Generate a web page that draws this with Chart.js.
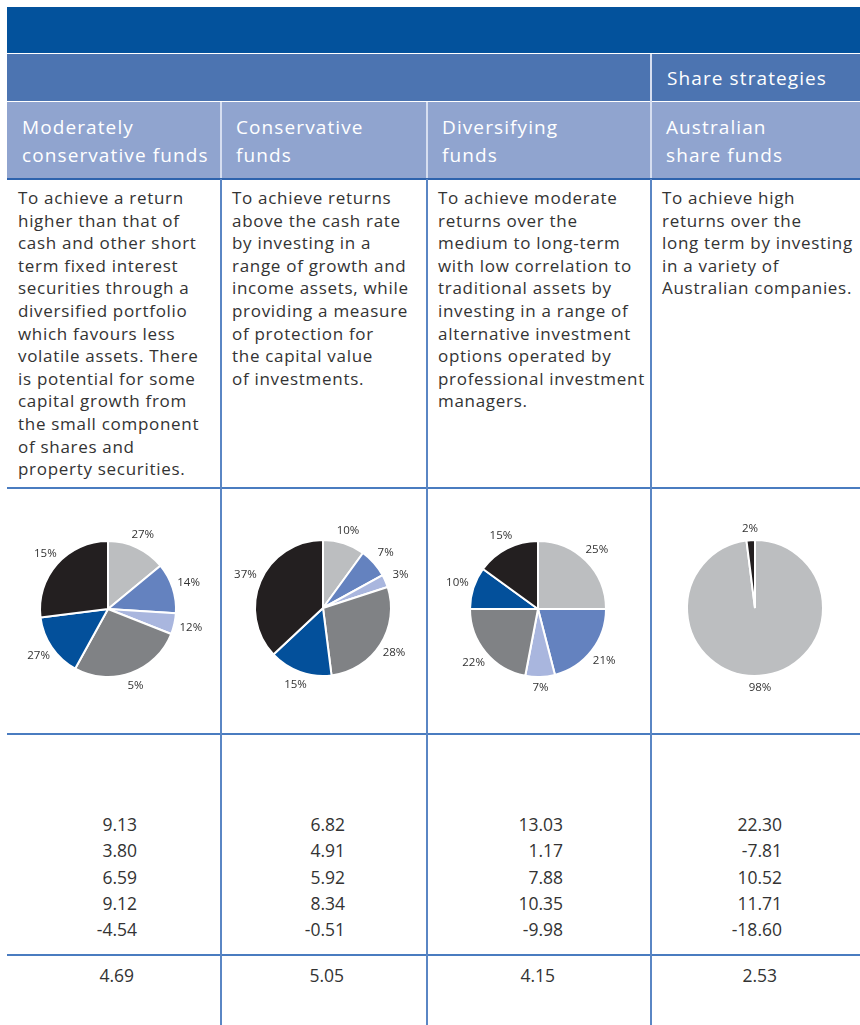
<!DOCTYPE html>
<html>
<head>
<meta charset="utf-8">
<script src="https://cdn.jsdelivr.net/npm/chart.js@4/dist/chart.umd.min.js"></script>
<style>
  html, body { margin:0; padding:0; background:#fff; }
  #page { position:relative; width:860px; height:1025px; overflow:hidden; font-family:"Open Sans", sans-serif; color:#333; }
  .band { position:absolute; }
  .hline { position:absolute; height:2px; background:#4a7cc0; }
  .vline { position:absolute; width:2px; background:#5a86c4; }
  .head { position:absolute; color:#fff; font-size:19px; line-height:28px; letter-spacing:1.1px; white-space:nowrap; }
  .desc { position:absolute; font-size:17px; line-height:22.6px; letter-spacing:0.7px; color:#333; white-space:nowrap; }
  .nums { position:absolute; font-size:17.5px; line-height:26.3px; text-align:right; color:#333; }
  .pie { position:absolute; }
</style>
</head>
<body>
<div id="page"></div>
<script>
// ========== Data ==========
const fundNames = ['Moderately<br>conservative funds', 'Conservative<br>funds', 'Diversifying<br>funds', 'Australian<br>share funds'];
const groupLabel = 'Share strategies';
const objectiveLines = [
  ['To achieve a return','higher than that of','cash and other short','term fixed interest','securities through a','diversified portfolio','which favours less','volatile assets. There','is potential for some','capital growth from','the small component','of shares and','property securities.'],
  ['To achieve returns','above the cash rate','by investing in a','range of growth and','income assets, while','providing a measure','of protection for','the capital value','of investments.'],
  ['To achieve moderate','returns over the','medium to long-term','with low correlation to','traditional assets by','investing in a range of','alternative investment','options operated by','professional investment','managers.'],
  ['To achieve high','returns over the','long term by investing','in a variety of','Australian companies.']
];

// asset allocation slices, clockwise from 12 o'clock
const sliceColors = ['#bcbec0', '#6482bf', '#a9b6de', '#808285', '#03509b', '#231f20'];
const modConsAlloc = [14, 12, 5, 27, 15, 27];
const modConsLabels = ['27%', '14%', '12%', '5%', '27%', '15%'];
const consAlloc = [10, 7, 3, 28, 15, 37];
const consLabels = ['10%', '7%', '3%', '28%', '15%', '37%'];
const divAlloc = [25, 21, 7, 22, 10, 15];
const divLabels = ['25%', '21%', '7%', '22%', '10%', '15%'];
const ausShareAlloc = [98, 2];
const ausShareLabels = ['98%', '2%'];
const ausShareColors = ['#bcbec0', '#231f20'];

// yearly returns and average
const modConsReturns = ['9.13', '3.80', '6.59', '9.12', '-4.54'];
const consReturns = ['6.82', '4.91', '5.92', '8.34', '-0.51'];
const divReturns = ['13.03', '1.17', '7.88', '10.35', '-9.98'];
const ausShareReturns = ['22.30', '-7.81', '10.52', '11.71', '-18.60'];
const averageReturns = ['4.69', '5.05', '4.15', '2.53'];

// ========== Layout ==========
const colX = [7, 221, 427, 651, 860];
const page = document.getElementById('page');

function add(cls, style, html) {
  const d = document.createElement('div');
  d.className = cls;
  Object.assign(d.style, style);
  if (html) d.innerHTML = html;
  page.appendChild(d);
  return d;
}

// header bands
add('band', { left:'7px', top:'7px', width:'853px', height:'46px', background:'#03529c' });
add('band', { left:'7px', top:'54px', width:'853px', height:'47px', background:'#4c74b1' });
add('band', { left:'7px', top:'102px', width:'853px', height:'76px', background:'#90a4cf' });
add('band', { left:'650px', top:'54px', width:'2px', height:'124px', background:'#d6def0' });
[220, 426].forEach(x => add('band', { left:x+'px', top:'102px', width:'2px', height:'76px', background:'#d6def0' }));
add('head', { left:'667px', top:'64px' }, groupLabel);
fundNames.forEach((n, i) => add('head', { left:(colX[i] + 15) + 'px', top:'113px' }, n));

// grid lines
add('hline', { left:'7px', top:'178px', width:'853px', background:'#2e63ad' });
[487, 733, 954].forEach(y => add('hline', { left:'7px', top:y+'px', width:'853px' }));
[220, 426, 650].forEach(x => add('vline', { left:x+'px', top:'179px', height:'846px' }));

// objectives
objectiveLines.forEach((lines, i) => add('desc', { left:(colX[i] + 11) + 'px', top:'187px' }, lines.join('<br>')));

// returns
const allReturns = [modConsReturns, consReturns, divReturns, ausShareReturns];
const numRight = [137, 345, 563, 782];
const avgRight = [134, 344, 555, 777];
allReturns.forEach((vals, i) => {
  add('nums', { left:(numRight[i] - 80) + 'px', width:'80px', top:'811px' }, vals.join('<br>'));
  add('nums', { left:(avgRight[i] - 80) + 'px', width:'80px', top:'962px' }, averageReturns[i]);
});

// ========== Pies ==========
const pieLabelPlugin = {
  id: 'pieLabels',
  afterDatasetsDraw(chart) {
    const ctx = chart.ctx;
    const labels = chart.options.plugins.pieLabels.labels;
    ctx.save();
    ctx.font = '11.5px "Open Sans", sans-serif';
    ctx.fillStyle = '#333';
    ctx.textAlign = 'center';
    ctx.textBaseline = 'middle';
    chart.getDatasetMeta(0).data.forEach((arc, i) => {
      const p = arc.getProps(['x', 'y', 'startAngle', 'endAngle', 'outerRadius'], true);
      const a = (p.startAngle + p.endAngle) / 2;
      const r = p.outerRadius + 11 + 6 * Math.abs(Math.cos(a));
      ctx.fillText(labels[i], p.x + Math.cos(a) * r, p.y + Math.sin(a) * r);
    });
    ctx.restore();
  }
};

function makePie(cx, cy, data, colors, labels) {
  const c = document.createElement('canvas');
  c.width = 200; c.height = 200;
  c.className = 'pie';
  c.style.left = (cx - 100) + 'px';
  c.style.top = (cy - 100) + 'px';
  page.appendChild(c);
  return new Chart(c.getContext('2d'), {
    type: 'pie',
    data: { labels: labels, datasets: [{ data: data, backgroundColor: colors, borderColor: '#fff', borderWidth: 2, radius: 68 }] },
    options: {
      responsive: false, animation: false, events: [],
      plugins: { legend: { display: false }, tooltip: { enabled: false }, pieLabels: { labels: labels } }
    },
    plugins: [pieLabelPlugin]
  });
}

makePie(108, 609, modConsAlloc, sliceColors, modConsLabels);
makePie(323, 608, consAlloc, sliceColors, consLabels);
makePie(538, 609, divAlloc, sliceColors, divLabels);
makePie(755, 608, ausShareAlloc, ausShareColors, ausShareLabels);
</script>
</body>
</html>
